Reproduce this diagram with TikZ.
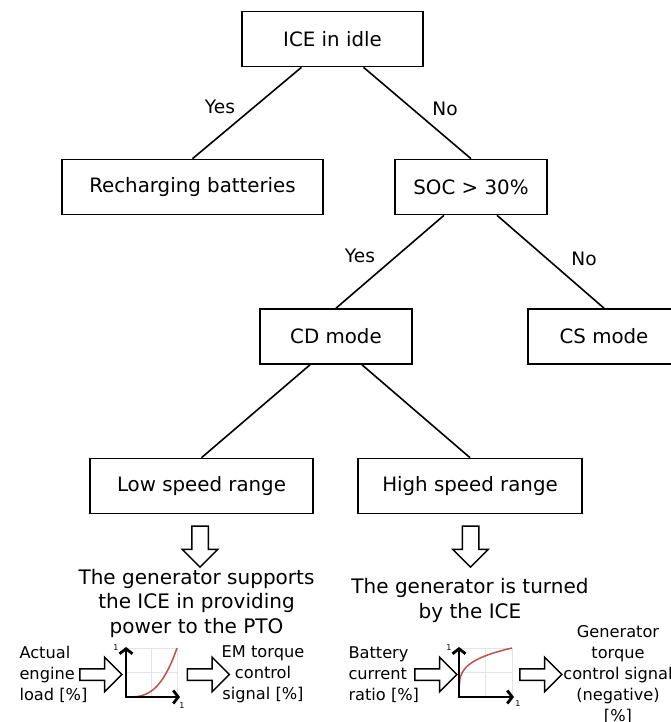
\documentclass[tikz,border=0pt]{standalone}
\usepackage{fontspec}
\setmainfont{DejaVu Sans}
\usepackage{xcolor}
\usetikzlibrary{shapes.arrows,arrows.meta}

\definecolor{curvered}{RGB}{192,80,77}
\definecolor{gridgray}{RGB}{228,228,228}

\begin{document}
\begin{tikzpicture}[x=1pt,y=-1pt,
	box/.style={draw,line width=1.6pt,inner sep=0pt,minimum height=55pt,font=\fontsize{19.8}{24}\selectfont},
	answer/.style={font=\fontsize{18.6}{22}\selectfont},
	result/.style={align=center,font=\fontsize{20}{24.5}\selectfont},
	small/.style={font=\fontsize{16.2}{21}\selectfont},
	hollow/.style={draw,line width=1.5pt,single arrow,inner xsep=0pt,single arrow head extend=11.5pt,minimum height=42pt,inner ysep=5pt},
	downarrow/.style={hollow,rotate=-90,inner ysep=7.5pt,single arrow head extend=9.5pt,minimum height=41pt},
	axis/.style={line width=2.8pt,{Straight Barb[length=5pt,width=13pt]}-{Straight Barb[length=5pt,width=13pt]}},
	curve/.style={line width=1.5pt,curvered},
	unitlbl/.style={font=\fontsize{8}{9}\selectfont,inner sep=0pt}]
		\useasboundingbox (0,0) rectangle (670,722);
		\draw[line width=1.6pt]
		node[box,minimum width=181pt] at (332.5,39) (idle) {ICE in idle}
		node[box,minimum width=261pt] at (192.5,187) (charge) {Recharging batteries}
		node[box,minimum width=152pt] at (471,187) (soc) {SOC > 30\%}
		node[box,minimum width=152pt] at (336,336.5) (cd) {CD mode}
		node[box,minimum width=152pt] at (604,336.5) (cs) {CS mode}
		node[box,minimum width=223pt] at (201.5,486) (low) {Low speed range}
		node[box,minimum width=224pt] at (470,486) (high) {High speed range}
		node[answer] at (220,107) (yesidle) {Yes}
		node[answer] at (445,109) (noidle) {No}
		node[answer] at (360,256) (yessoc) {Yes}
		node[answer] at (584,259) (nosoc) {No}
		([xshift=-31pt]idle.south) -- (charge.north)
		([xshift=31pt]idle.south) -- (soc.north)
		([xshift=-27pt]soc.south) -- (cd.north)
		([xshift=26pt]soc.south) -- (cs.north)
		([xshift=-26pt]cd.south) -- (low.north)
		([xshift=26pt]cd.south) -- (high.north);

		\node[downarrow] at (200,542.5) (downlow) {};
		\node[downarrow] at (470.5,542.5) (downhigh) {};
		\node[result] at (196.5,603) (lowres) {The generator supports\\the ICE in providing\\power to the PTO};
		\node[result] at (470,600.5) (highres) {The generator is turned\\by the ICE};

		\node[small,align=left,anchor=west] at (16,674.5) (load) {Actual\\engine\\load [\%]};
		\node[hollow] at (98,674.5) (inlow) {};
		\node[hollow] at (205.5,674.5) (outlow) {};
		\node[small,align=center] at (263,674.5) (emsig) {EM torque\\control\\signal [\%]};
		\node[small,align=left,anchor=west] at (345,675) (batt) {Battery\\current\\ratio [\%]};
		\node[hollow] at (433,674.5) (inhigh) {};
		\node[hollow] at (538,674.5) (outhigh) {};
		\node[small,align=center] at (618,675) (gensig) {Generator\\torque\\control signal\\(negative)\\{[\%]}};

		% low speed map
		\draw[gridgray,line width=0.7pt] (126,648) rectangle (177,697) (151.5,648) -- (151.5,697) (126,672.5) -- (177,672.5);
		\draw[curve] plot[domain=0:1,samples=40] ({126+51*\x},{697-49*\x*\x*\x});
		\draw[axis] (126,647) -- (126,697) -- (180,697);
		\node[unitlbl] at (116,648) (ylow) {1};
		\node[unitlbl] at (182,706) (xlow) {1};

		% high speed map
		\draw[gridgray,line width=0.7pt] (459,648) rectangle (512,697) (485.5,648) -- (485.5,697) (459,672.5) -- (512,672.5);
		\draw[curve] (459,697) -- plot[domain=0.001:1,samples=60] ({459+53*\x},{697-49*pow(\x,0.25)});
		\draw[axis] (459,647) -- (459,697) -- (514,697);
		\node[unitlbl] at (449,648) (yhigh) {1};
		\node[unitlbl] at (518,704) (xhigh) {1};
\end{tikzpicture}
\end{document}
